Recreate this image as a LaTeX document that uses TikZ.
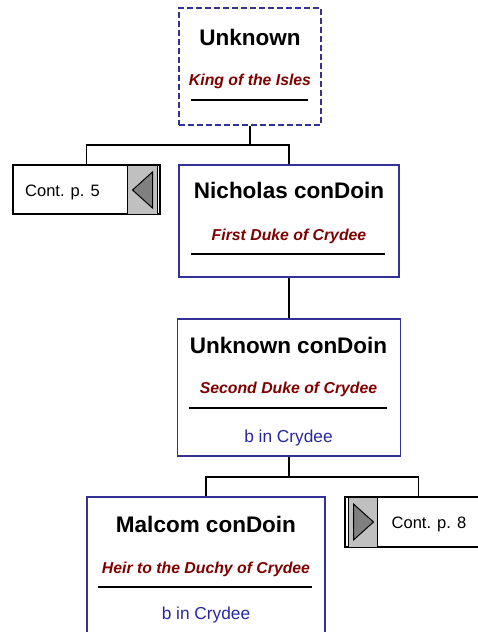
\documentclass[tikz,border=0pt]{standalone}
\usepackage{fontspec}
\setmainfont{Liberation Sans}
\definecolor{boxblue}{RGB}{50,50,150}
\definecolor{titlered}{RGB}{128,0,0}
\definecolor{birthblue}{RGB}{40,40,165}
\definecolor{tabgray}{RGB}{192,192,192}
\definecolor{arrgray}{RGB}{128,128,128}
\tikzset{
  personbox/.style={draw=boxblue, line width=1.3pt, fill=white, inner sep=0pt},
  kingbox/.style={personbox, dashed, dash pattern=on 6pt off 3pt},
  contbox/.style={draw=black, line width=1.4pt, fill=white, inner sep=0pt},
  pname/.style={anchor=base, inner sep=0pt, font=\bfseries\fontsize{22.5}{25}\selectfont},
  ptitle/.style={anchor=base, inner sep=0pt, text=titlered, font=\bfseries\itshape\fontsize{15.8}{18}\selectfont},
  pbirth/.style={anchor=base, inner sep=0pt, text=birthblue, font=\fontsize{17.3}{19}\selectfont},
  conttext/.style={anchor=base, inner sep=0pt, font=\fontsize{16.5}{19}\selectfont},
  conn/.style={draw=black, line width=1.4pt},
  rule/.style={draw=black, line width=1.4pt},
  tri/.style={draw=black, fill=arrgray, line width=1pt, line join=miter}
}
\begin{document}
\begin{tikzpicture}[x=1pt, y=-1pt]
\useasboundingbox (0,0) rectangle (477,632);
% boxes
\node[kingbox, minimum width=142pt, minimum height=117pt] (king) at (250,66.5) {};
\node[contbox, minimum width=147pt, minimum height=49pt] (cont5) at (86.5,189.5) {};
\node[personbox, minimum width=220pt, minimum height=112pt] (nich) at (289,221) {};
\node[personbox, minimum width=223pt, minimum height=137pt] (unk) at (289,387.5) {};
\node[personbox, minimum width=238pt, minimum height=150pt] (mal) at (206,572) {};
\node[contbox, minimum width=147pt, minimum height=50pt] (cont8) at (418.5,522) {};
% connectors
\draw[conn] (king.south) -- (250,145) coordinate (j1);
\draw[conn] (cont5.north) |- (j1) -| (nich.north);
\draw[conn] (nich.south) -- (unk.north);
\draw[conn] (unk.south) -- (289,477) coordinate (j2);
\draw[conn] (mal.north) |- (j2) -| (cont8.north);
% tabs
\fill[tabgray] (127,165.5) rectangle (157,213.5);
\draw[line width=0.8pt] (127,165) -- (127,214);
\draw[line width=1pt] (157,165) -- (157,214);
\draw[tri] (132.5,190) -- (152.5,172) -- (152.5,208) -- cycle;
\node[conttext] (c5) at (62.5,196) {Cont. p. 5};
\fill[tabgray] (348,497.5) rectangle (377,546.5);
\draw[line width=0.8pt] (377,497) -- (377,547);
\draw[line width=1pt] (348,497) -- (348,547);
\draw[tri] (373.5,522) -- (353.5,504) -- (353.5,540) -- cycle;
\node[conttext] (c8) at (429,528) {Cont. p. 8};
% king
\node[pname] (kingn) at (250,45.5) {Unknown};
\node[ptitle] (kingt) at (250,85.5) {King of the Isles};
\draw[rule] (191,100) -- (308,100);
% nicholas
\node[pname] (nichn) at (289,198.5) {Nicholas conDoin};
\node[ptitle] (nicht) at (289,240.5) {First Duke of Crydee};
\draw[rule] (191,254) -- (385,254);
% unknown condoin
\node[pname] (unkn) at (288.5,353.5) {Unknown conDoin};
\node[ptitle] (unkt) at (288.5,393.5) {Second Duke of Crydee};
\draw[rule] (189,408) -- (387,408);
\node[pbirth] (unkb) at (288.5,442) {b in Crydee};
% malcom
\node[pname] (maln) at (206,532.5) {Malcom conDoin};
\node[ptitle] (malt) at (206,573.5) {Heir to the Duchy of Crydee};
\draw[rule] (98,587) -- (312,587);
\node[pbirth] (malb) at (206,619) {b in Crydee};
\end{tikzpicture}
\end{document}
